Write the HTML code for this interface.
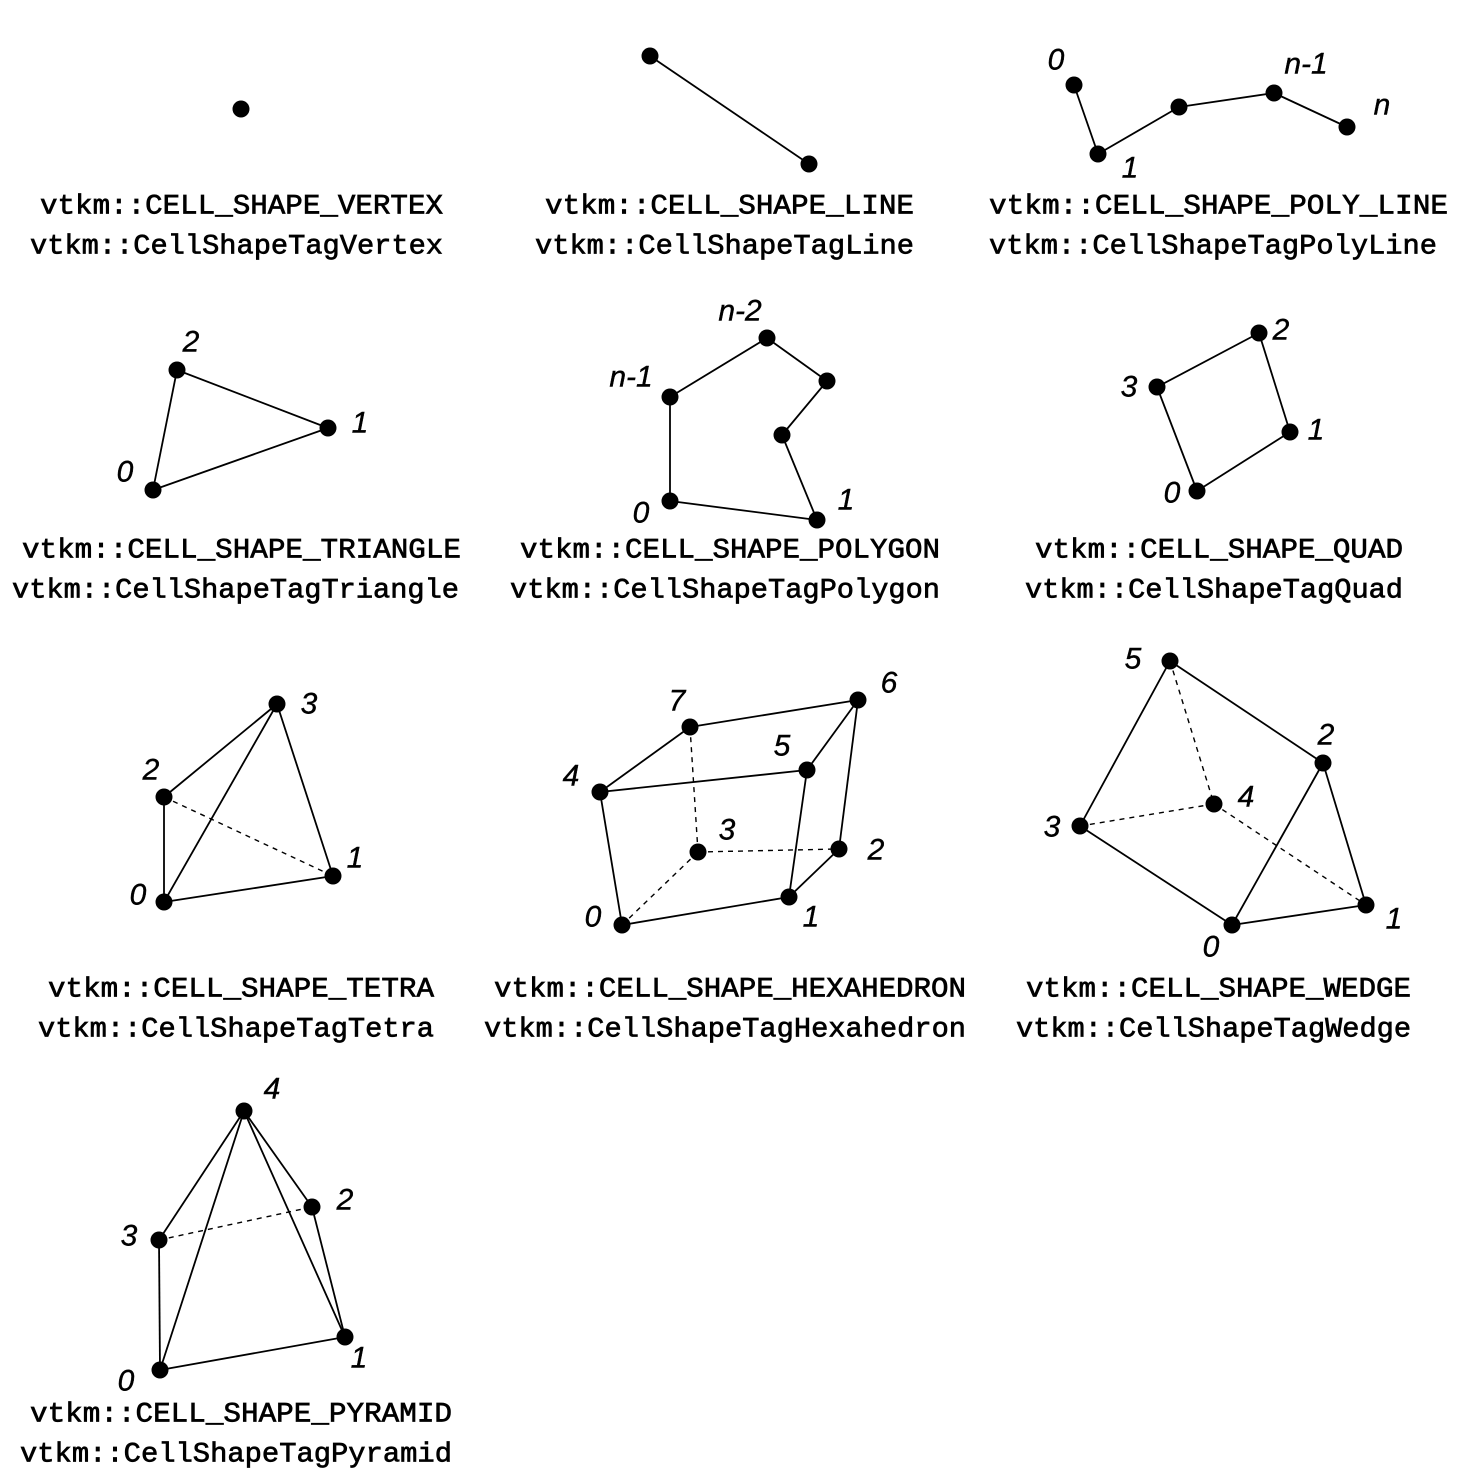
<!DOCTYPE html>
<html><head><meta charset="utf-8"><style>
html,body{margin:0;padding:0;background:#fff}
svg{display:block}
.lbl{font-family:"Liberation Sans",sans-serif;font-style:italic;font-size:30px;fill:#000;stroke:#000;stroke-width:0.4}
.tt{font-family:"Liberation Mono",monospace;font-size:28px;fill:#000;stroke:#000;stroke-width:0.7}
</style></head><body>
<svg id="s" width="1464" height="1484" viewBox="0 0 1464 1484"></svg>
<script>
const shapes=[
 {name:"vertex",pts:[[241,109]],lbl:[],solid:[],dash:[],t:["vtkm::CELL_SHAPE_VERTEX","vtkm::CellShapeTagVertex"],tx:[[40,443],[30,443]],ty:207},
 {name:"line",pts:[[650,56],[809,164]],lbl:[],solid:[[0,1]],dash:[],t:["vtkm::CELL_SHAPE_LINE","vtkm::CellShapeTagLine"],tx:[[545,914],[535,914]],ty:207},
 {name:"poly-line",pts:[[1074,85],[1098,154],[1179,107],[1274,93],[1347,127]],lbl:[["0",1056,60],["1",1130,168],["",0,0],["n-1",1306,64],["n",1382,105]],solid:[[0,1],[1,2],[2,3],[3,4]],dash:[],t:["vtkm::CELL_SHAPE_POLY_LINE","vtkm::CellShapeTagPolyLine"],tx:[[989,1448],[989,1437]],ty:207},
 {name:"triangle",pts:[[153,490],[328,428],[177,370]],lbl:[["0",125,472],["1",360,423],["2",191,342]],solid:[[0,1],[1,2],[2,0]],dash:[],t:["vtkm::CELL_SHAPE_TRIANGLE","vtkm::CellShapeTagTriangle"],tx:[[22,461],[12,459]],ty:551},
 {name:"polygon",pts:[[670,501],[817,520],[782,435],[827,381],[767,338],[670,397]],lbl:[["0",641,513],["1",846,500],["",0,0],["",0,0],["n-2",740,311],["n-1",631,377]],solid:[[0,1],[1,2],[2,3],[3,4],[4,5],[5,0]],dash:[],t:["vtkm::CELL_SHAPE_POLYGON","vtkm::CellShapeTagPolygon"],tx:[[520,940],[510,940]],ty:551},
 {name:"quad",pts:[[1197,491],[1290,432],[1259,333],[1157,387]],lbl:[["0",1172,493],["1",1316,430],["2",1281,330],["3",1129,387]],solid:[[0,1],[1,2],[2,3],[3,0]],dash:[],t:["vtkm::CELL_SHAPE_QUAD","vtkm::CellShapeTagQuad"],tx:[[1035,1403],[1025,1403]],ty:551},
 {name:"tetra",pts:[[164,902],[333,876],[164,797],[277,704]],lbl:[["0",138,895],["1",355,858],["2",151,770],["3",309,704]],solid:[[0,1],[0,2],[0,3],[1,3],[2,3]],dash:[[2,1]],t:["vtkm::CELL_SHAPE_TETRA","vtkm::CellShapeTagTetra"],tx:[[48,434],[38,434]],ty:990},
 {name:"hexahedron",pts:[[622,925],[789,897],[839,849],[698,852],[600,792],[807,770],[858,700],[690,727]],lbl:[["0",593,917],["1",811,917],["2",876,850],["3",727,830],["4",571,776],["5",782,746],["6",889,683],["7",677,701]],solid:[[0,1],[1,2],[2,6],[6,7],[7,4],[4,0],[4,5],[5,1],[5,6]],dash:[[0,3],[3,2],[3,7]],t:["vtkm::CELL_SHAPE_HEXAHEDRON","vtkm::CellShapeTagHexahedron"],tx:[[494,966],[484,966]],ty:990},
 {name:"wedge",pts:[[1232,925],[1366,905],[1323,763],[1080,826],[1214,804],[1170,661]],lbl:[["0",1211,947],["1",1394,919],["2",1326,735],["3",1052,827],["4",1246,797],["5",1133,659]],solid:[[0,1],[1,2],[2,0],[3,5],[5,2],[3,0]],dash:[[3,4],[5,4],[4,1]],t:["vtkm::CELL_SHAPE_WEDGE","vtkm::CellShapeTagWedge"],tx:[[1026,1411],[1016,1411]],ty:990},
 {name:"pyramid",pts:[[160,1370],[345,1337],[312,1207],[159,1240],[244,1111]],lbl:[["0",126,1381],["1",359,1358],["2",345,1200],["3",129,1236],["4",272,1089]],solid:[[0,1],[1,2],[0,3],[4,0],[4,1],[4,2],[4,3]],dash:[[3,2]],t:["vtkm::CELL_SHAPE_PYRAMID","vtkm::CellShapeTagPyramid"],tx:[[30,452],[20,452]],ty:1415}
];
const NS="http://www.w3.org/2000/svg",svg=document.getElementById("s");
function mk(tag,attrs,parent){const e=document.createElementNS(NS,tag);for(const k in attrs)e.setAttribute(k,attrs[k]);parent.appendChild(e);return e;}
shapes.forEach(sh=>{
 const g=mk("g",{},svg);
 
 
 sh.solid.forEach(([a,b])=>{const l=mk("line",{x1:sh.pts[a][0],y1:sh.pts[a][1],x2:sh.pts[b][0],y2:sh.pts[b][1],stroke:"#000","stroke-width":1.8},g);
  
  });
 sh.dash.forEach(([a,b])=>{const l=mk("line",{x1:sh.pts[a][0],y1:sh.pts[a][1],x2:sh.pts[b][0],y2:sh.pts[b][1],stroke:"#000","stroke-width":1.4,"stroke-dasharray":"5 5"},g);
  
  });
 sh.pts.forEach(p=>{const c=mk("circle",{cx:p[0],cy:p[1],r:8.5,fill:"#000"},g);
  
  });
 sh.lbl.forEach(l=>{if(!l[0])return;const t=mk("text",{x:l[1],y:l[2],"class":"lbl","text-anchor":"middle","dominant-baseline":"central"},g);t.textContent=l[0];
  
  });
 sh.t.forEach((s,i)=>{const x=sh.tx[i];const t=mk("text",{x:x[0],y:sh.ty+i*40,"class":"tt","dominant-baseline":"central",textLength:x[1]-x[0],lengthAdjust:"spacingAndGlyphs"},g);t.textContent=s;
  
  });
});
</script>
</body></html>
